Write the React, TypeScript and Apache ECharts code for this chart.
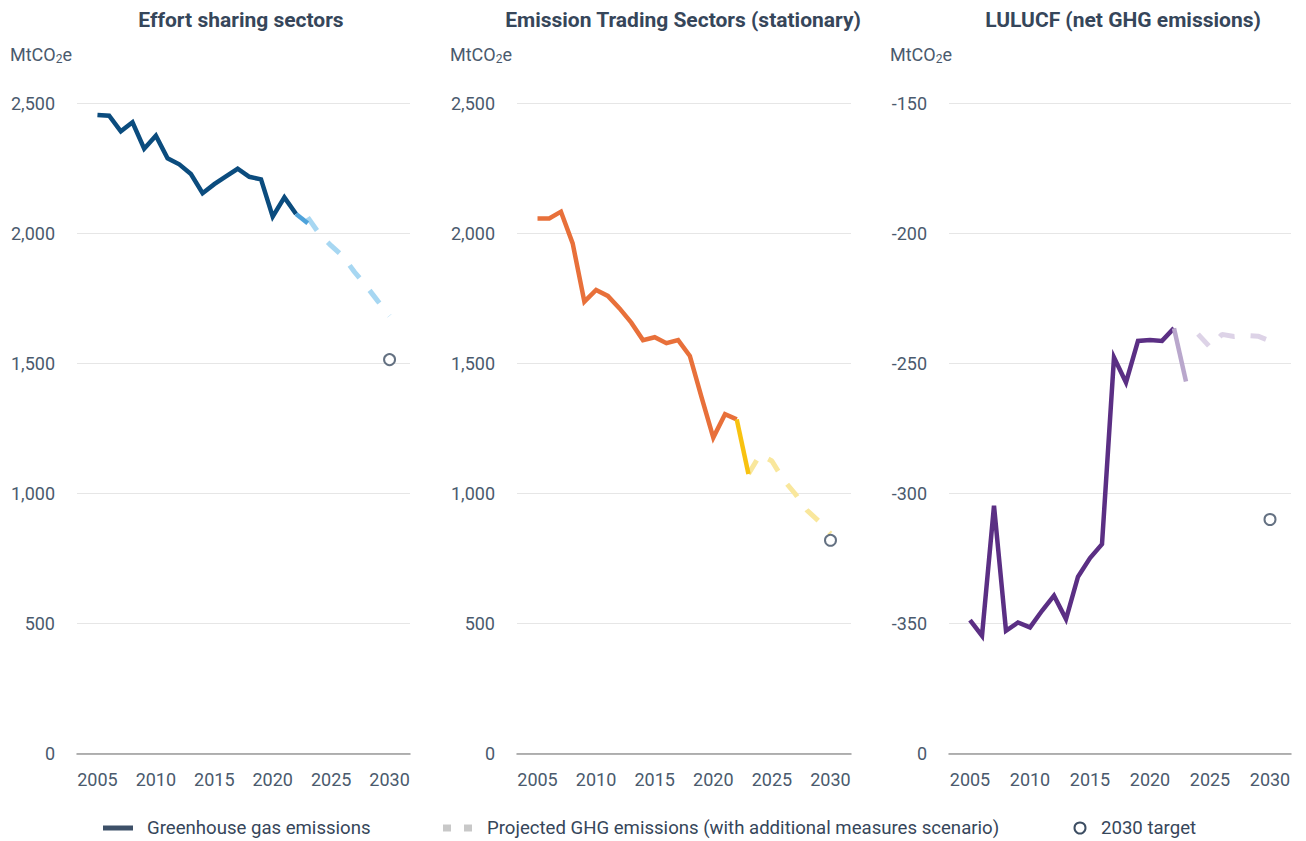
import React, { useEffect, useRef } from 'react';
import * as echarts from 'echarts';

// ---------- DATA ----------
const historyYears = [2005, 2006, 2007, 2008, 2009, 2010, 2011, 2012, 2013, 2014, 2015, 2016, 2017, 2018, 2019, 2020, 2021, 2022];
const proxyYears = [2022, 2023];
const projectionYears = [2023, 2024, 2025, 2026, 2027, 2028, 2029, 2030];
const targetYear = 2030;
const xTickLabels = [2005, 2010, 2015, 2020, 2025, 2030];

const panelTitles = ['Effort sharing sectors', 'Emission Trading Sectors (stationary)', 'LULUCF (net GHG emissions)'];

// Effort sharing sectors (MtCO2e)
const esHistory = [2456, 2453, 2393, 2428, 2326, 2376, 2289, 2266, 2229, 2155, 2190, 2220, 2249, 2218, 2208, 2065, 2139, 2075];
const esProxy = [2075, 2039];
const esProjection = [2062, 1998, 1953, 1913, 1852, 1798, 1740, 1683];
const esTarget = 1515;

// Emission Trading Sectors (stationary)
const etsHistory = [2058, 2058, 2084, 1962, 1738, 1783, 1760, 1712, 1657, 1590, 1601, 1578, 1590, 1529, 1370, 1215, 1305, 1285];
const etsProxy = [1285, 1075];
const etsProjection = [1075, 1150, 1125, 1052, 998, 935, 894, 845];
const etsTarget = 820;

// LULUCF (net GHG emissions)
const luHistory = [-348.7, -354.7, -304.7, -352.8, -349.6, -351.5, -345.1, -339.3, -348.3, -332.0, -324.8, -319.5, -247.7, -257.3, -241.3, -241.0, -241.3, -236.4];
const luProxy = [-236.4, -256.9];
const luProjection = [null, -238.7, -243.7, -238.8, -239.6, -239.2, -239.5, -241.3];
const luTarget = -310;

const legendLabels = ['Greenhouse gas emissions', 'Projected GHG emissions (with additional measures scenario)', '2030 target'];

// ---------- STYLE ----------
const TITLE_COLOR = '#36465a';
const LABEL_COLOR = '#4a5a6d';
const FONT = 'Roboto';

const panels = [
  { left: 77, right: 410, titleX: 241, unitX: 10, min: 0, max: 2500, interval: 500,
    history: esHistory, proxy: esProxy, projection: esProjection, target: esTarget,
    colors: ['#0b4c7e', '#4ea2da', '#a7d7f2'] },
  { left: 517, right: 851, titleX: 683, unitX: 450, min: 0, max: 2500, interval: 500,
    history: etsHistory, proxy: etsProxy, projection: etsProjection, target: etsTarget,
    colors: ['#e8703a', '#f8c210', '#f9e79c'] },
  { left: 949, right: 1291, titleX: 1123, unitX: 890, min: -400, max: -150, interval: 50,
    history: luHistory, proxy: luProxy, projection: luProjection, target: luTarget,
    colors: ['#5b2f84', '#b9a7cc', '#ddd3e7'] },
];

const pair = (xs: number[], ys: (number | null)[]) => xs.map((x, i) => [x, ys[i]]);

export default function App() {
  const ref = useRef<HTMLDivElement>(null);
  useEffect(() => {
    if (!ref.current) return;
    const chart = echarts.init(ref.current, null, { renderer: 'svg' });

    const grid = panels.map((p) => ({ left: p.left, width: p.right - p.left, top: 103.5, bottom: 87.5, containLabel: false }));
    const xAxis = panels.map((p, i) => ({
      type: 'value', gridIndex: i, min: 2003.25, max: 2031.75,
      axisLine: { show: true, lineStyle: { color: '#9a9a9a', width: 1.5 } },
      axisTick: { show: false },
      splitLine: { show: false },
      axisLabel: { customValues: xTickLabels, color: LABEL_COLOR, fontSize: 18, fontFamily: FONT, margin: 17, formatter: (v: number) => String(v) },
    }));
    const yAxis = panels.map((p, i) => ({
      type: 'value', gridIndex: i, min: p.min, max: p.max, interval: p.interval,
      axisLine: { show: false }, axisTick: { show: false },
      splitLine: { show: true, lineStyle: { color: '#e6e6e6', width: 1 } },
      axisLabel: {
        color: LABEL_COLOR, fontSize: 18, fontFamily: FONT, margin: 22,
        formatter: (v: number) => (p.min < 0 && v === p.min ? '0' : v.toLocaleString('en-US')),
      },
    }));

    const series: any[] = [];
    panels.forEach((p, i) => {
      series.push({
        type: 'line', xAxisIndex: i, yAxisIndex: i, data: pair(historyYears, p.history),
        symbol: 'none', lineStyle: { color: p.colors[0], width: 4.5, join: 'miter' }, z: 3,
      });
      series.push({
        type: 'line', xAxisIndex: i, yAxisIndex: i, data: pair(proxyYears, p.proxy),
        symbol: 'none', lineStyle: { color: p.colors[1], width: 4.5 }, z: 4,
      });
      series.push({
        type: 'line', xAxisIndex: i, yAxisIndex: i, data: pair(projectionYears, p.projection),
        symbol: 'none', connectNulls: false,
        lineStyle: { color: p.colors[2], width: 5, type: [16, 16], cap: 'butt' }, z: 2,
      });
      series.push({
        type: 'scatter', xAxisIndex: i, yAxisIndex: i, data: [[targetYear, p.target]],
        symbol: 'circle', symbolSize: 11,
        itemStyle: { color: '#ffffff', borderColor: '#3d4e63', borderWidth: 2 }, z: 5,
      });
    });

    const graphic: any[] = [];
    panels.forEach((p, i) => {
      graphic.push({
        type: 'text', x: p.titleX, y: 20,
        style: { text: panelTitles[i], align: 'center', verticalAlign: 'middle', fontSize: 21, fontWeight: 'bold', fontFamily: FONT, fill: TITLE_COLOR },
      });
      graphic.push({
        type: 'text', x: p.unitX, y: 54,
        style: {
          text: '{a|MtCO}{b|2}{a|e}', verticalAlign: 'middle', align: 'left',
          rich: {
            a: { fontSize: 18, fontFamily: FONT, fill: LABEL_COLOR },
            b: { fontSize: 12, fontFamily: FONT, fill: LABEL_COLOR, padding: [10, 0, 0, 0] },
          },
        },
      });
    });
    // legend
    const ly = 828;
    graphic.push({ type: 'rect', shape: { x: 103, y: ly - 2.5, width: 30, height: 5 }, style: { fill: '#3d5068' } });
    graphic.push({ type: 'text', x: 147, y: ly, style: { text: legendLabels[0], verticalAlign: 'middle', fontSize: 18.6, fontFamily: FONT, fill: TITLE_COLOR } });
    graphic.push({ type: 'rect', shape: { x: 443, y: ly - 3.5, width: 8, height: 7 }, style: { fill: '#c8c8c8' } });
    graphic.push({ type: 'rect', shape: { x: 464, y: ly - 3.5, width: 8, height: 7 }, style: { fill: '#c8c8c8' } });
    graphic.push({ type: 'text', x: 487, y: ly, style: { text: legendLabels[1], verticalAlign: 'middle', fontSize: 18.6, fontFamily: FONT, fill: TITLE_COLOR } });
    graphic.push({ type: 'circle', shape: { cx: 1080, cy: ly, r: 5.5 }, style: { fill: '#ffffff', stroke: '#3d4e63', lineWidth: 2 } });
    graphic.push({ type: 'text', x: 1101, y: ly, style: { text: legendLabels[2], verticalAlign: 'middle', fontSize: 18.6, fontFamily: FONT, fill: TITLE_COLOR } });

    chart.setOption({
      animation: false,
      backgroundColor: '#ffffff',
      textStyle: { fontFamily: FONT },
      grid, xAxis, yAxis, series, graphic,
    });
    return () => chart.dispose();
  }, []);

  return <div ref={ref} style={{ position: 'fixed', left: 0, top: 0, width: 1306, height: 841 }} />;
}
